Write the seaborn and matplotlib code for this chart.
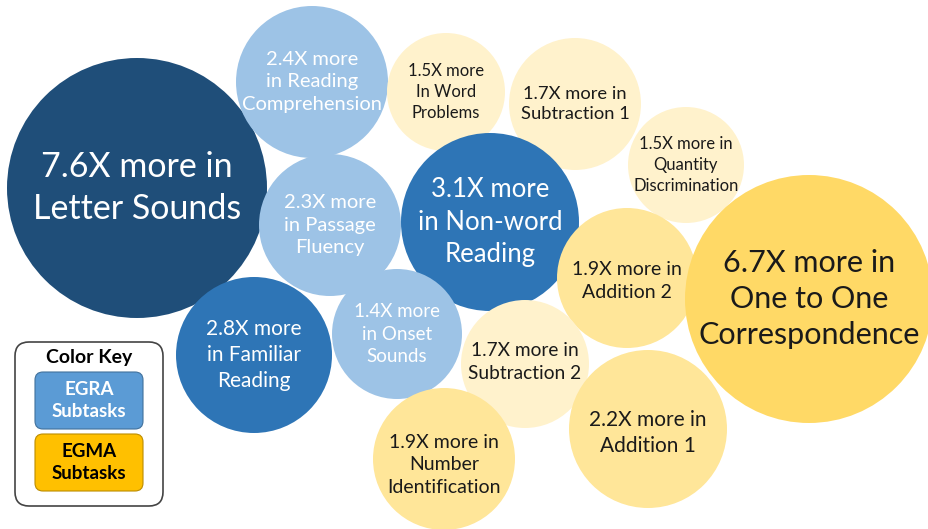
"""Bubble chart: how many times more children improved on each EGRA / EGMA subtask."""

import matplotlib.pyplot as plt
import numpy as np
import pandas as pd
import seaborn as sns
from matplotlib.patches import FancyBboxPatch

# Data.
subtasks = [
    "Letter Sounds", "Reading Comprehension", "Word Problems", "Subtraction 1",
    "Quantity Discrimination", "Passage Fluency", "Non-word Reading", "Addition 2",
    "One to One Correspondence", "Familiar Reading", "Onset Sounds", "Subtraction 2",
    "Addition 1", "Number Identification",
]
multipliers = [7.6, 2.4, 1.5, 1.7, 1.5, 2.3, 3.1, 1.9, 6.7, 2.8, 1.4, 1.7, 2.2, 1.9]
assessment = ["EGRA", "EGRA", "EGMA", "EGMA", "EGMA", "EGRA", "EGRA", "EGMA",
              "EGMA", "EGRA", "EGRA", "EGMA", "EGMA", "EGMA"]
labels = [
    "7.6X more in\nLetter Sounds",
    "2.4X more\nin Reading\nComprehension",
    "1.5X more\nIn Word\nProblems",
    "1.7X more in\nSubtraction 1",
    "1.5X more in\nQuantity\nDiscrimination",
    "2.3X more\nin Passage\nFluency",
    "3.1X more\nin Non-word\nReading",
    "1.9X more in\nAddition 2",
    "6.7X more in\nOne to One\nCorrespondence",
    "2.8X more\nin Familiar\nReading",
    "1.4X more\nin Onset\nSounds",
    "1.7X more in\nSubtraction 2",
    "2.2X more in\nAddition 1",
    "1.9X more in\nNumber\nIdentification",
]

# Layout of the packed bubbles (pixel units, y down).
bubble_x = [137, 312, 446, 575, 686, 330, 490, 627, 809, 254, 397, 525, 648, 444]
bubble_y = [188, 82, 92, 104, 165, 225, 222, 278, 299, 355, 334, 364, 429, 459]
bubble_r = [130, 76, 59, 66, 58, 71, 89, 70, 124, 78, 65, 64, 79, 71]
text_dy = [0, 0, 0, 0, 0, 0, 0, 3, 0, 0, 0, -2, 4, 6]
shade = ["dark", "light", "pale", "pale", "pale", "light", "mid", "soft",
         "gold", "mid", "light", "pale", "soft", "soft"]
font_pt = [24.5, 14.5, 12, 13.2, 12, 14.5, 18.5, 14, 22, 15, 13.5, 13.8, 15, 14]

palette = {
    "dark": "#1F4E79", "mid": "#2E75B6", "light": "#9DC3E6",
    "pale": "#FFF2CC", "soft": "#FFE699", "gold": "#FFD966",
}
text_color = {"dark": "white", "mid": "white", "light": "white",
              "pale": "#1a1a1a", "soft": "#1a1a1a", "gold": "#1a1a1a"}

W, H, DPI = 929, 529, 100

df = pd.DataFrame({
    "subtask": subtasks, "multiplier": multipliers, "test": assessment,
    "x": bubble_x, "y": bubble_y, "r": bubble_r, "shade": shade,
})
# scatter marker area in points^2 so that the disc diameter is 2r pixels
df["area"] = (2 * df["r"] * 72 / DPI) ** 2

sns.set_style("white")
plt.rcParams["font.family"] = ["Lato", "DejaVu Sans"]

fig = plt.figure(figsize=(W / DPI, H / DPI), dpi=DPI)
ax = fig.add_axes([0, 0, 1, 1])

sns.scatterplot(
    data=df, x="x", y="y", hue="shade", palette=palette,
    size="area", sizes=(df["area"].min(), df["area"].max()),
    size_norm=(df["area"].min(), df["area"].max()),
    linewidth=0, alpha=1, legend=False, ax=ax, zorder=2,
)

for (_, row), lab, fs, dy in zip(df.iterrows(), labels, font_pt, text_dy):
    ax.text(row["x"], row["y"] + dy, lab, ha="center", va="center", fontsize=fs,
            color=text_color[row["shade"]], linespacing=1.36, zorder=3)

# Colour key
ax.add_patch(FancyBboxPatch((15, 342), 148, 164, boxstyle="round,pad=0,rounding_size=14",
                            facecolor="white", edgecolor="#444444", linewidth=1.2, zorder=4))
ax.text(89, 357, "Color Key", ha="center", va="center", fontsize=14,
        fontweight="bold", color="black", zorder=5)
for y0, fc, tc, name in [(372, "#5B9BD5", "white", "EGRA"), (434, "#FFC000", "black", "EGMA")]:
    ax.add_patch(FancyBboxPatch((35, y0), 108, 57, boxstyle="round,pad=0,rounding_size=8",
                                facecolor=fc, edgecolor="#41719C" if name == "EGRA" else "#BC8C00",
                                linewidth=0.8, zorder=5))
    ax.text(89, y0 + 28.5, f"{name}\nSubtasks", ha="center", va="center", fontsize=13.5,
            fontweight="bold", color=tc, linespacing=1.3, zorder=6)

ax.set_xlim(0, W)
ax.set_ylim(H, 0)
ax.set_axis_off()
fig.savefig("out.png", dpi=DPI)
